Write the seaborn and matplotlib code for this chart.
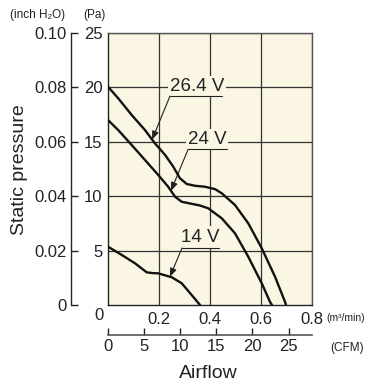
import numpy as np
import pandas as pd
import matplotlib
matplotlib.use("Agg")
import matplotlib.pyplot as plt
import seaborn as sns

# airflow (m3/min) / static pressure (Pa)
flow_264 = [0.0, 0.040, 0.093, 0.145, 0.184, 0.224, 0.256, 0.282, 0.309, 0.341, 0.380,
            0.420, 0.446, 0.498, 0.550, 0.603, 0.655, 0.694, 0.698]
pa_264 = [20.06, 19.0, 17.46, 16.08, 14.86, 13.79, 12.71, 11.65, 11.12, 10.96, 10.87,
          10.65, 10.27, 9.19, 7.51, 5.21, 2.6, 0.3, 0.0]

flow_24 = [0.0, 0.040, 0.093, 0.145, 0.197, 0.236, 0.263, 0.289, 0.328, 0.360, 0.393,
           0.446, 0.498, 0.550, 0.603, 0.635, 0.643]
pa_24 = [17.0, 16.08, 14.7, 13.33, 11.95, 10.87, 9.95, 9.49, 9.3, 9.15, 8.89,
         7.97, 6.59, 4.44, 1.99, 0.3, 0.0]

flow_14 = [0.0, 0.054, 0.106, 0.152, 0.175, 0.197, 0.25, 0.289, 0.328, 0.361]
pa_14 = [5.36, 4.6, 3.83, 3.0, 2.93, 2.91, 2.55, 2.0, 0.92, 0.0]

voltages = ["26.4 V", "24 V", "14 V"]
pa_ticks = [5, 10, 15, 20, 25]
flow_ticks = [0.2, 0.4, 0.6, 0.8]
inch_ticks = [0, 0.02, 0.04, 0.06, 0.08, 0.10]
cfm_ticks = [0, 5, 10, 15, 20, 25]

df = pd.concat([
    pd.DataFrame({"flow": flow_264, "pa": pa_264, "v": voltages[0]}),
    pd.DataFrame({"flow": flow_24, "pa": pa_24, "v": voltages[1]}),
    pd.DataFrame({"flow": flow_14, "pa": pa_14, "v": voltages[2]}),
])

sns.set_style("white")
plt.rcParams["font.family"] = ["Liberation Sans", "DejaVu Sans"]

W, H = 384, 387
TICK = 12
fig = plt.figure(figsize=(W / 100, H / 100), dpi=100)
ax = fig.add_axes([108 / W, 1 - 305 / H, 204 / W, 272 / H])
ax.set_facecolor("#faf6e3")

sns.lineplot(data=df, x="flow", y="pa", hue="v", palette=["#111"] * 3,
             estimator=None, sort=False, lw=1.7, legend=False, ax=ax, zorder=4)
for ln in ax.lines:
    ln.set_solid_joinstyle("round")

ax.set_xlim(0, 0.8)
ax.set_ylim(0, 25)
ax.set_xticks(flow_ticks)
ax.set_xticklabels([f"{t:.1f}" for t in flow_ticks])
ax.set_yticks(pa_ticks)
ax.set_yticklabels([str(t) for t in pa_ticks])
ax.tick_params(length=0, labelsize=TICK, colors="#222")
ax.tick_params(axis="x", pad=5)
ax.tick_params(axis="y", pad=4)
ax.grid(True, color="#333", lw=0.9)
ax.set_axisbelow(True)
for side, sp in ax.spines.items():
    sp.set_color("#555" if side in ("top", "right") else "#222")
    sp.set_linewidth(1.0)
ax.set_xlabel("")
ax.set_ylabel("")
ax.text(-0.022, -0.012, "0", transform=ax.transAxes, ha="right", va="top",
        fontsize=TICK, color="#222")

# inch H2O scale on the far left
sec_y = ax.secondary_yaxis(-0.181, functions=(lambda p: p / 250, lambda i: i * 250))
sec_y.set_yticks(inch_ticks)
sec_y.set_yticklabels(["0"] + [f"{t:.2f}" for t in inch_ticks[1:]])
sec_y.tick_params(direction="in", length=5, width=1, labelsize=TICK, pad=3, colors="#222")
sec_y.spines["left"].set_linewidth(1.0)

# CFM scale below
sec_x = ax.secondary_xaxis(-0.11, functions=(lambda m: m * 35.315, lambda c: c / 35.315))
sec_x.set_xticks(cfm_ticks)
sec_x.tick_params(direction="in", length=5, width=1, labelsize=TICK, pad=3, colors="#222")
sec_x.spines["bottom"].set_color("#555")
sec_x.spines["bottom"].set_linewidth(1.2)

# voltage labels with leader arrows
labels = [
    (voltages[0], 0.349, 20.1, 0.243, 0.447, 19.2, 0.173, flow_264, pa_264),
    (voltages[1], 0.388, 15.25, 0.314, 0.467, 14.3, 0.247, flow_24, pa_24),
    (voltages[2], 0.361, 6.25, 0.29, 0.435, 5.24, 0.243, flow_14, pa_14),
]
for txt, tx, ty, x0, x1, yu, xtip, fx, fy in labels:
    ax.text(tx, ty, txt, ha="center", va="center", fontsize=13.5, color="#222",
            zorder=3, bbox=dict(facecolor="#faf6e3", edgecolor="none", pad=1.5))
    ax.plot([x0, x1], [yu, yu], color="#222", lw=0.8, zorder=3)
    ax.annotate("", xy=(xtip, np.interp(xtip, fx, fy)), xytext=(x0, yu),
                arrowprops=dict(arrowstyle="-|>,head_length=0.5,head_width=0.2",
                                color="#222", lw=0.8, shrinkA=0, shrinkB=0), zorder=3)

small = dict(color="#222", va="center")
fig.text(10 / W, 1 - 15 / H, "(inch H\u2082O)", fontsize=8.5, **small)
fig.text(83 / W, 1 - 15 / H, "(Pa)", fontsize=8.5, **small)
fig.text(326 / W, 1 - 318 / H, "(m\u00b3/min)", fontsize=7.5, **small)
fig.text(330 / W, 1 - 348 / H, "(CFM)", fontsize=8.5, **small)
fig.text(208 / W, 1 - 373 / H, "Airflow", fontsize=14, ha="center", **small)
fig.text(20 / W, 1 - 170 / H, "Static pressure", fontsize=14, ha="center",
         rotation=90, **small)

fig.savefig("out.png", dpi=100)
